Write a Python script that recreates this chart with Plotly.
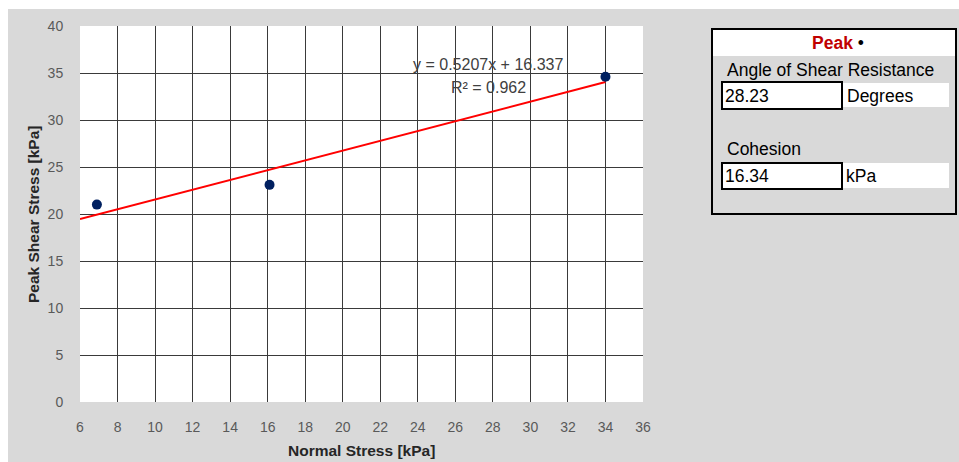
import plotly.graph_objects as go

# ---- data ----
normal_stress = [6.9, 16.1, 34.0]          # kPa
peak_shear = [21.0, 23.1, 34.6]            # kPa
trend_slope = 0.5207
trend_intercept = 16.337
trend_r2 = 0.962
trend_x = [6, 34]
x_ticks = list(range(6, 37, 2))
y_ticks = list(range(0, 41, 5))
angle_value = "28.23"
cohesion_value = "16.34"

trend_y = [trend_slope * x + trend_intercept for x in trend_x]

W, H = 959, 462
L, R, T, B = 80, 643, 26, 402
FONT = "Liberation Sans, Arial, sans-serif"


def px(x):
    return (x - L) / (R - L)


def py(y):
    return (B - y) / (B - T)


fig = go.Figure()
fig.add_trace(go.Scatter(x=trend_x, y=trend_y, mode="lines",
                         line=dict(color="#FF0000", width=2), showlegend=False))
fig.add_trace(go.Scatter(x=normal_stress, y=peak_shear, mode="markers",
                         marker=dict(color="#002060", size=10), showlegend=False))

shapes = []
# white strips around the grey chart area
shapes.append(dict(type="rect", xref="paper", yref="paper", x0=px(0), x1=px(W), y0=py(0), y1=py(9),
                   fillcolor="white", line=dict(width=0), layer="below"))
shapes.append(dict(type="rect", xref="paper", yref="paper", x0=px(0), x1=px(8), y0=py(0), y1=py(H),
                   fillcolor="white", line=dict(width=0), layer="below"))
# right info box
shapes.append(dict(type="rect", xref="paper", yref="paper", x0=px(713), x1=px(956), y0=py(30), y1=py(56),
                   fillcolor="white", line=dict(width=0)))
shapes.append(dict(type="rect", xref="paper", yref="paper", x0=px(712), x1=px(956), y0=py(29), y1=py(214),
                   fillcolor="rgba(0,0,0,0)", line=dict(color="black", width=2)))
for (y0, y1) in [(83, 107), (163, 188)]:
    shapes.append(dict(type="rect", xref="paper", yref="paper", x0=px(842), x1=px(949), y0=py(y0), y1=py(y1),
                       fillcolor="white", line=dict(width=0)))
for (y0, y1) in [(82, 109), (163, 189)]:
    shapes.append(dict(type="rect", xref="paper", yref="paper", x0=px(722), x1=px(842), y0=py(y0), y1=py(y1),
                       fillcolor="white", line=dict(color="black", width=2)))

ann = []
ann.append(dict(xref="paper", yref="paper", x=px(488), y=py(65), xanchor="center", yanchor="middle",
                text=f"y = {trend_slope}x + {trend_intercept}", showarrow=False,
                font=dict(family=FONT, size=16, color="#404040")))
ann.append(dict(xref="paper", yref="paper", x=px(488), y=py(87), xanchor="center", yanchor="middle",
                text=f"R² = {trend_r2}", showarrow=False,
                font=dict(family=FONT, size=16, color="#404040")))
ann.append(dict(xref="paper", yref="paper", x=px(361), y=py(450), xanchor="center", yanchor="middle",
                text="<b>Normal Stress [kPa]</b>", showarrow=False,
                font=dict(family=FONT, size=15.5, color="#262626")))
ann.append(dict(xref="paper", yref="paper", x=px(33), y=py(214), xanchor="center", yanchor="middle",
                text="<b>Peak Shear Stress [kPa]</b>", showarrow=False, textangle=-90,
                font=dict(family=FONT, size=15.5, color="#262626")))
box_font = dict(family=FONT, size=17.5, color="black")
ann.append(dict(xref="paper", yref="paper", x=px(838), y=py(43), xanchor="center", yanchor="middle",
                text="<b><span style='color:#C00000'>Peak</span></b> •", showarrow=False, font=box_font))
ann.append(dict(xref="paper", yref="paper", x=px(725), y=py(70), xanchor="left", yanchor="middle",
                text="Angle of Shear Resistance", showarrow=False, font=box_font))
ann.append(dict(xref="paper", yref="paper", x=px(723), y=py(96), xanchor="left", yanchor="middle",
                text=angle_value, showarrow=False, font=box_font))
ann.append(dict(xref="paper", yref="paper", x=px(845), y=py(96), xanchor="left", yanchor="middle",
                text="Degrees", showarrow=False, font=box_font))
ann.append(dict(xref="paper", yref="paper", x=px(725), y=py(149), xanchor="left", yanchor="middle",
                text="Cohesion", showarrow=False, font=box_font))
ann.append(dict(xref="paper", yref="paper", x=px(723), y=py(176), xanchor="left", yanchor="middle",
                text=cohesion_value, showarrow=False, font=box_font))
ann.append(dict(xref="paper", yref="paper", x=px(844), y=py(176), xanchor="left", yanchor="middle",
                text="kPa", showarrow=False, font=box_font))

axis_common = dict(showgrid=True, gridcolor="#3a3a3a", gridwidth=1, zeroline=False,
                   showline=True, linecolor="#d9d9d9", linewidth=1,
                   ticks="outside", tickcolor="rgba(0,0,0,0)",
                   tickfont=dict(family=FONT, size=14, color="#595959"))

fig.update_layout(
    width=W, height=H,
    margin=dict(l=L, r=W - R, t=T, b=H - B, pad=0),
    paper_bgcolor="#d9d9d9", plot_bgcolor="white",
    xaxis=dict(range=[6, 36], tickvals=x_ticks, ticklen=12, **axis_common),
    yaxis=dict(range=[0, 40], tickvals=y_ticks, ticklen=13, **axis_common),
    shapes=shapes, annotations=ann, showlegend=False,
)

fig.write_html("out.html")
